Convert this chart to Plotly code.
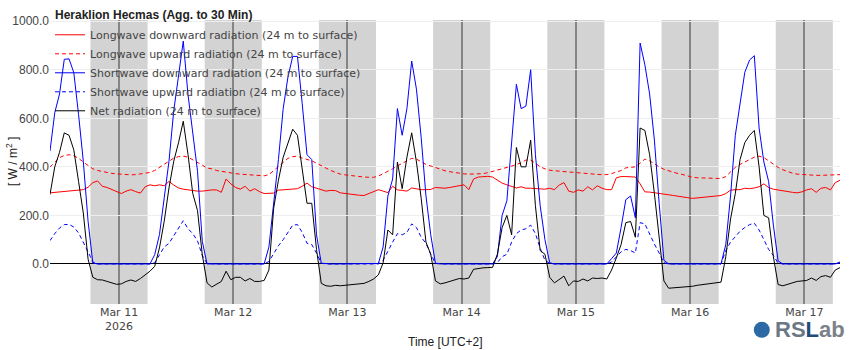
import plotly.graph_objects as go
import pandas as pd

# half-hour-centred hourly samples, Mar 10 09:30 -> Mar 17 07:30 (UTC+2)
times = pd.date_range("2026-03-10 09:30", periods=167, freq="h")
night_starts = pd.date_range("2026-03-10 18:00", periods=7, freq="D")

lw_down = [
    293, 295, 297, 298, 300, 302, 304, 306, 316, 335, 342, 320, 315, 306, 297, 290, 300,
    306, 298, 292, 318, 326, 322, 326, 322, 340, 325, 313, 308, 305, 302, 300, 300, 304,
    305, 305, 295, 350, 330, 315, 308, 320, 300, 310, 298, 290, 290, 292, 304, 306, 306,
    308, 310, 320, 333, 318, 312, 305, 300, 303, 302, 293, 290, 287, 286, 283, 282, 290,
    295, 306, 300, 294, 320, 305, 303, 300, 313, 308, 306, 306, 307, 315, 313, 312, 315,
    318, 322, 326, 306, 350, 358, 361, 361, 358, 345, 333, 326, 318, 313, 318, 312, 312,
    310, 310, 308, 312, 306, 325, 335, 300, 295, 305, 300, 318, 305, 322, 312, 306, 306,
    355, 360, 360, 360, 358, 330, 297, 296, 294, 292, 287, 285, 282, 278, 276, 273, 270,
    272, 273, 275, 276, 278, 282, 290, 304, 306, 306, 312, 310, 313, 318, 330, 315, 308,
    304, 300, 296, 295, 293, 297, 305, 310, 295, 312, 315, 305, 335, 345,
]
lw_up = [
    399, 420, 438, 447, 450, 446, 435, 420, 405, 392, 385, 380, 377, 373, 371, 369, 368,
    367, 368, 370, 373, 377, 385, 398, 412, 425, 436, 442, 444, 440, 430, 418, 407, 395,
    392, 385, 381, 378, 375, 372, 370, 368, 366, 364, 363, 363, 368, 385, 402, 422, 435,
    442, 444, 436, 430, 425, 415, 405, 393, 385, 377, 370, 367, 364, 361, 359, 358, 357,
    357, 362, 372, 380, 392, 404, 415, 425, 435, 432, 420, 410, 404, 397, 390, 384, 380,
    376, 373, 371, 370, 370, 371, 372, 376, 381, 385, 390, 398, 403, 410, 416, 428, 428,
    415, 400, 392, 386, 384, 382, 380, 378, 376, 374, 373, 372, 370, 369, 368, 368, 372,
    378, 385, 396, 398, 400, 415, 432, 425, 412, 400, 390, 383, 378, 372, 368, 362, 357,
    355, 355, 355, 354, 353, 352, 360, 380, 398, 410, 420, 430, 440, 444, 438, 425, 410,
    398, 388, 380, 374, 370, 368, 366, 365, 365, 365, 365, 366, 367, 368,
]
sw_down = [
    465, 623, 700, 843, 845, 788, 616, 423, 176, 4, 0, 0, 0, 0, 0, 0, 0,
    0, 0, 0, 0, 0, 38, 121, 272, 423, 630, 767, 918, 698, 533, 382, 93, 0,
    0, 0, 0, 0, 0, 0, 0, 0, 0, 0, 0, 0, 70, 250, 430, 640, 770,
    855, 855, 660, 450, 430, 120, 3, 0, 0, 0, 0, 0, 0, 0, 0, 0, 0,
    0, 2, 70, 280, 350, 640, 530, 640, 836, 720, 520, 280, 120, 2, 0, 0, 0,
    0, 0, 0, 0, 0, 0, 0, 0, 0, 30, 200, 260, 500, 740, 640, 650, 800,
    450, 240, 100, 5, 0, 0, 0, 0, 0, 0, 0, 0, 0, 0, 0, 0, 22,
    45, 150, 265, 280, 190, 910, 820, 700, 510, 250, 15, 0, 0, 0, 0, 0, 0,
    0, 0, 0, 0, 0, 0, 80, 280, 530, 670, 790, 840, 858, 560, 420, 340, 160,
    12, 0, 0, 0, 0, 0, 0, 0, 0, 0, 0, 0, 0, 8,
]
sw_up = [
    96, 125, 148, 162, 163, 152, 128, 92, 50, 8, 0, 0, 0, 0, 0, 0, 0,
    0, 0, 0, 0, 0, 5, 40, 70, 85, 115, 145, 178, 145, 125, 95, 35, 2,
    0, 0, 0, 0, 0, 0, 0, 0, 0, 0, 0, 0, 10, 45, 75, 100, 130,
    160, 162, 130, 85, 80, 45, 3, 0, 0, 0, 0, 0, 0, 0, 0, 0, 0,
    0, 0, 15, 55, 90, 125, 120, 130, 165, 150, 110, 85, 40, 3, 0, 0, 0,
    0, 0, 0, 0, 0, 0, 0, 0, 0, 5, 30, 40, 90, 125, 140, 145, 160,
    125, 65, 15, 2, 0, 0, 0, 0, 0, 0, 0, 0, 0, 0, 0, 0, 8,
    28, 50, 60, 55, 45, 170, 165, 120, 82, 45, 5, 0, 0, 0, 0, 0, 0,
    0, 0, 0, 0, 0, 0, 55, 90, 112, 135, 150, 162, 168, 140, 100, 60, 35,
    3, 0, 0, 0, 0, 0, 0, 0, 0, 0, 0, 0, 0, 5,
]
net = [
    286, 400, 460, 540, 530, 470, 340, 210, 20, -55, -65, -66, -72, -78, -84, -82, -72,
    -66, -72, -60, -45, -30, -10, 66, 176, 313, 423, 499, 588, 451, 290, 220, 38, -78,
    -95, -85, -72, -30, -65, -55, -55, -70, -60, -72, -72, -68, -25, 230, 345, 440, 500,
    555, 530, 400, 250, 250, 60, -80, -90, -92, -88, -90, -88, -86, -85, -82, -80, -72,
    -62, -45, 5, 140, 120, 420, 310, 440, 540, 420, 270, 90, 40, -70, -82, -78, -72,
    -65, -60, -62, -58, -22, -18, -16, -15, -14, 40, 150, 200, 120, 480, 400, 400, 510,
    240, 55, 40, -55, -78, -65, -50, -90, -70, -72, -62, -70, -58, -60, -58, -62, -25,
    25, 80, 170, 175, 110, 560, 550, 450, 290, 120, -70, -100, -99, -97, -96, -95, -92,
    -88, -85, -82, -80, -78, -75, 30, 185, 290, 430, 500, 530, 550, 400, 200, 190, 30,
    -85, -90, -84, -78, -72, -70, -68, -58, -68, -52, -48, -55, -25, -15,
]

series = [
    ("Longwave downward radiation (24 m to surface)", lw_down, "red", "solid"),
    ("Longwave upward radiation (24 m to surface)", lw_up, "red", "4px,3px"),
    ("Shortwave downward radiation (24 m to surface)", sw_down, "blue", "solid"),
    ("Shortwave upward radiation (24 m to surface)", sw_up, "blue", "4px,3px"),
    ("Net radiation (24 m to surface)", net, "black", "solid"),
]

fig = go.Figure()
for name, vals, color, dash in series:
    fig.add_trace(go.Scatter(x=times, y=vals, mode="lines", name=name,
                             line=dict(color=color, width=1, dash=dash)))

for s in night_starts:
    fig.add_shape(type="rect", xref="x", yref="paper", x0=s, x1=s + pd.Timedelta(hours=12),
                  y0=0, y1=1, fillcolor="#d3d3d3", line=dict(width=0), layer="below")

AR = "Arial, Liberation Sans, sans-serif"
DV = "DejaVu Sans, Verdana, sans-serif"

fig.update_layout(
    template="none",
    width=850, height=350,
    margin=dict(l=50, r=10, t=20, b=46),
    paper_bgcolor="white", plot_bgcolor="white",
    showlegend=True,
    legend=dict(x=0, y=0.999, xanchor="left", yanchor="top", bgcolor="rgba(0,0,0,0)",
                font=dict(family=DV, size=11, color="#444"), borderwidth=0),
    xaxis=dict(type="date", range=[times[0], times[-1]], dtick=86400000,
               tick0="2026-03-11", showgrid=True, gridcolor="#858585", gridwidth=2,
               zeroline=False, showline=False, ticks="",
               tickfont=dict(family=DV, size=11, color="#444")),
    yaxis=dict(range=[-165, 1005], dtick=200, tick0=0, tickformat=".1f",
               showgrid=True, gridcolor="#eeeeee", gridwidth=1,
               zeroline=True, zerolinecolor="black", zerolinewidth=1,
               showline=False, ticks="",
               tickfont=dict(family=AR, size=12, color="#444")),
    annotations=[
        dict(text="<b>Heraklion Hecmas (Agg. to 30 Min)</b>", xref="paper", yref="paper",
             x=0.004, y=1.017, xanchor="left", yanchor="middle", showarrow=False,
             font=dict(family=AR, size=12, color="#222")),
        dict(text="[ W / m<sup>2</sup> ]", xref="paper", yref="paper", x=-0.048, y=0.5,
             xanchor="center", yanchor="middle", textangle=-90, showarrow=False,
             font=dict(family=AR, size=12, color="#222")),
        dict(text="Time [UTC+2]", xref="paper", yref="paper", x=0.5, y=-0.133,
             xanchor="center", yanchor="middle", showarrow=False,
             font=dict(family=AR, size=12, color="#222")),
        dict(text="<span style='color:#6b7785'><b>RS</b></span><span style='color:#1e4d7b'><b>L</b></span>"
                  "<span style='color:#7d8288'><b>ab</b></span>",
             xref="paper", yref="paper", x=1.009, y=-0.091, xanchor="right", yanchor="middle",
             showarrow=False, font=dict(family=AR, size=22)),
    ],
)
fig.add_shape(type="circle", xref="paper", yref="paper", xsizemode="pixel", ysizemode="pixel",
              xanchor=0.901, yanchor=-0.091, x0=-8, x1=8, y0=-8, y1=8,
              fillcolor="#2c6aa5", line=dict(width=0), layer="above")

fig.write_html("out.html")
